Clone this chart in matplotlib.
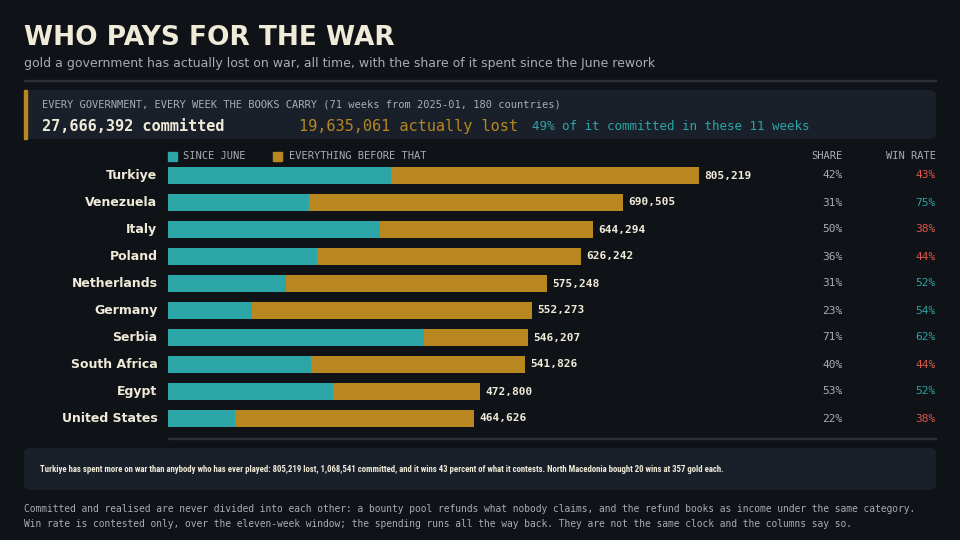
# -*- coding: utf-8 -*-
"""
Who pays for the war: gold lost per government, split at the June rework
"""

import matplotlib.pyplot as plt
from matplotlib.patches import FancyBboxPatch, Rectangle

BG = "#0f1217"
PANEL = "#19202a"
TEAL = "#2ba5a6"
GOLD = "#b8871f"
RED = "#e0574a"
MONO = "DejaVu Sans Mono"

countries = ["Turkiye", "Venezuela", "Italy", "Poland", "Netherlands",
             "Germany", "Serbia", "South Africa", "Egypt", "United States"]
lost = [805219, 690505, 644294, 626242, 575248, 552273, 546207, 541826, 472800, 464626]
share = [42, 31, 50, 36, 31, 23, 71, 40, 53, 22]
winrate = [43, 75, 38, 44, 52, 54, 62, 44, 52, 38]

fig = plt.figure(figsize=(9.6, 5.4), dpi=100, facecolor=BG)

def px(x, y):
    return x / 960, 1 - y / 540

# header
fig.text(*px(24, 38), "WHO PAYS FOR THE WAR", color="#f0ead8", fontsize=19,
         fontweight="heavy", family="DejaVu Sans", va="center")
fig.text(*px(24, 64), "gold a government has actually lost on war, all time, with the share of it spent since the June rework",
         color="#a8adb5", fontsize=9, va="center")
fig.add_artist(Rectangle(px(24, 81), 912 / 960, 1 / 540, transform=fig.transFigure, color="#2a3038"))

# summary panel
fig.add_artist(FancyBboxPatch(px(24, 139), 912 / 960, 49 / 540, boxstyle="round,pad=0,rounding_size=0.008",
                              transform=fig.transFigure, color=PANEL, lw=0))
fig.add_artist(Rectangle(px(24, 139), 3 / 960, 49 / 540, transform=fig.transFigure, color=GOLD))
fig.text(*px(42, 104), "EVERY GOVERNMENT, EVERY WEEK THE BOOKS CARRY (71 weeks from 2025-01, 180 countries)",
         color="#a8adb5", fontsize=7.5, family=MONO, va="center")
fig.text(*px(42, 126), "27,666,392 committed", color="#f0ead8", fontsize=11, fontweight="bold", family=MONO, va="center")
fig.text(*px(299, 126), "19,635,061 actually lost", color=GOLD, fontsize=11, family=MONO, va="center")
fig.text(*px(532, 126), "49% of it committed in these 11 weeks", color=TEAL, fontsize=9, family=MONO, va="center")

# legend and column heads
fig.add_artist(Rectangle(px(168, 161), 9 / 960, 9 / 540, transform=fig.transFigure, color=TEAL))
fig.text(*px(183, 156), "SINCE JUNE", color="#a8adb5", fontsize=7.5, family=MONO, va="center")
fig.add_artist(Rectangle(px(273, 161), 9 / 960, 9 / 540, transform=fig.transFigure, color=GOLD))
fig.text(*px(289, 156), "EVERYTHING BEFORE THAT", color="#a8adb5", fontsize=7.5, family=MONO, va="center")
fig.text(*px(843, 156), "SHARE", color="#a8adb5", fontsize=7.5, family=MONO, va="center", ha="right")
fig.text(*px(936, 156), "WIN RATE", color="#a8adb5", fontsize=7.5, family=MONO, va="center", ha="right")

# bars
ax = fig.add_axes([168 / 960, 1 - 432 / 540, 531 / 960, 270 / 540])
ax.set_facecolor(BG)
ax.set_xlim(0, max(lost))
ax.set_ylim(len(countries) - 0.5, -0.5)
ax.axis("off")
ys = range(len(countries))
recent = [l * s / 100 for l, s in zip(lost, share)]
ax.barh(ys, recent, height=0.64, color=TEAL)
ax.barh(ys, [l - r for l, r in zip(lost, recent)], left=recent, height=0.64, color=GOLD)
tr = ax.get_yaxis_transform()
for i, (c, l, s, w) in enumerate(zip(countries, lost, share, winrate)):
    ax.text(-0.02, i, c, transform=tr, ha="right", va="center", color="#f0ead8", fontsize=9, fontweight="bold")
    ax.text(l + 8000, i, f"{l:,}", ha="left", va="center", color="#f0ead8", fontsize=8, fontweight="bold", family=MONO)
    ax.text(1.27, i, f"{s}%", transform=tr, ha="right", va="center", color="#a8adb5", fontsize=8, family=MONO)
    ax.text(1.445, i, f"{w}%", transform=tr, ha="right", va="center", color=TEAL if w >= 50 else RED,
            fontsize=8, family=MONO)

fig.add_artist(Rectangle(px(168, 439), 768 / 960, 1 / 540, transform=fig.transFigure, color="#2a3038"))

# note panel
fig.add_artist(FancyBboxPatch(px(24, 490), 912 / 960, 42 / 540, boxstyle="round,pad=0,rounding_size=0.008",
                              transform=fig.transFigure, color=PANEL, lw=0))
fig.text(*px(40, 469), "Turkiye has spent more on war than anybody who has ever played: 805,219 lost, 1,068,541 committed, "
         "and it wins 43 percent of what it contests. North Macedonia bought 20 wins at 357 gold each.",
         color="#f0ead8", fontsize=6.3, fontweight="bold", family="Roboto Condensed", va="center")
fig.text(*px(24, 509), "Committed and realised are never divided into each other: a bounty pool refunds what nobody claims, "
         "and the refund books as income under the same category.", color="#a8adb5", fontsize=6.9, family=MONO, va="center")
fig.text(*px(24, 524), "Win rate is contested only, over the eleven-week window; the spending runs all the way back. "
         "They are not the same clock and the columns say so.", color="#a8adb5", fontsize=6.9, family=MONO, va="center")

fig.savefig("out.png", dpi=100, facecolor=BG)
